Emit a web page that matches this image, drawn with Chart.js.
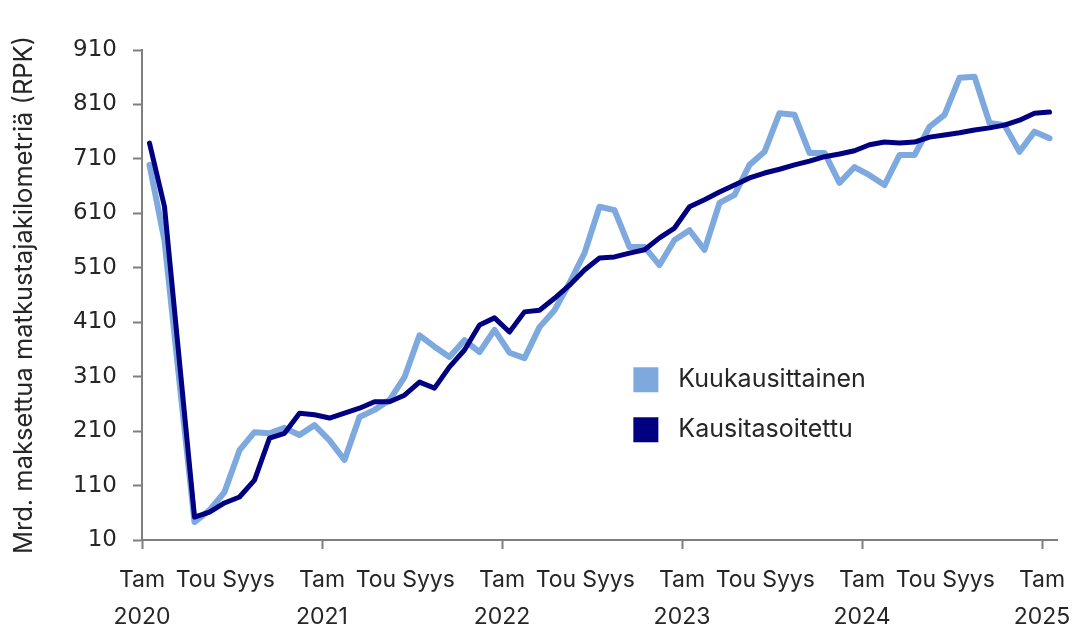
<!DOCTYPE html>
<html>
<head>
<meta charset="utf-8">
<script src="https://cdn.jsdelivr.net/npm/chart.js@4/dist/chart.umd.min.js"></script>
<style>
  html, body { margin: 0; padding: 0; background: #fff; }
  canvas { display: block; }
</style>
</head>
<body>
<canvas id="rpkChart" width="1090" height="625"></canvas>
<script>
// years on the x axis, first month of each is "Tam"
var YEARS = [2020, 2021, 2022, 2023, 2024, 2025];
var MONTH_NAMES = ['Tam', 'Tou', 'Syys'];
var MONTH_OFFSETS = [0, 3.6, 7.1];   // where the month names sit inside a year
var Y_TICKS = [10, 110, 210, 310, 410, 510, 610, 710, 810, 910];

var SERIES_NAMES = ['Kuukausittainen', 'Kausitasoitettu'];

// Tam 2020 .. Tam 2025, one value per month
var monthly = [
    699, 560, 300, 43, 65, 98, 175, 208, 206, 216, 203, 221,
    193, 157, 236, 249, 267, 309, 386, 365, 346, 377, 355, 396,
    354, 344, 401, 432, 482, 537, 622, 616, 548, 548, 515, 561,
    579, 543, 629, 644, 699, 723, 794, 791, 721, 721, 666, 695,
    680, 662, 717, 717, 769, 791, 859, 861, 776, 772, 723, 760,
    748
];
var seasonal = [
    739, 622, 337, 52, 61, 78, 89, 120, 197, 206, 243, 240,
    234, 243, 252, 264, 264, 276, 300, 289, 328, 359, 405, 418,
    392, 429, 432, 454, 478, 506, 528, 530, 537, 543, 565, 583,
    622, 635, 649, 662, 675, 684, 691, 699, 706, 714, 719, 725,
    736, 741, 739, 741, 750, 754, 758, 763, 767, 772, 781, 794,
    796
];

var LIGHT = 'rgb(125,169,223)';
var DARK = 'rgb(0,0,128)';
var AXIS = '#7f7f7f';
var TEXT = '#262626';
var FONT = 'Inter, "Liberation Sans", Arial, sans-serif';
var NUM_FONT = '"DejaVu Sans", Inter, sans-serif';

function toPoints(values) {
    var pts = [];
    for (var i = 0; i < values.length; i++) {
        pts.push({ x: i + 0.5, y: values[i] });   // middle of the month
    }
    return pts;
}

// legend drawn inside the plot area
var insideLegend = {
    id: 'insideLegend',
    afterDraw: function (chart, args, opts) {
        var ctx = chart.ctx;
        var area = chart.chartArea;
        var x = area.left + opts.x * (area.right - area.left);
        var y = area.top + opts.y * (area.bottom - area.top);
        ctx.save();
        ctx.font = opts.fontSize + 'px ' + FONT;
        ctx.textBaseline = 'middle';
        ctx.textAlign = 'left';
        chart.data.datasets.forEach(function (ds, i) {
            var yy = y + i * opts.spacing;
            ctx.fillStyle = ds.borderColor;
            ctx.fillRect(x, yy - opts.box / 2, opts.box, opts.box);
            ctx.fillStyle = TEXT;
            ctx.fillText(ds.label, x + opts.box + opts.gap, yy);
        });
        ctx.restore();
    }
};

var ctx = document.getElementById('rpkChart');
var rpkChart = new Chart(ctx, {
    type: 'line',
    data: {
        datasets: [
            {
                label: SERIES_NAMES[0],
                data: toPoints(monthly),
                borderColor: LIGHT,
                backgroundColor: LIGHT,
                borderWidth: 6,
                order: 2
            },
            {
                label: SERIES_NAMES[1],
                data: toPoints(seasonal),
                borderColor: DARK,
                backgroundColor: DARK,
                borderWidth: 5,
                order: 1
            }
        ]
    },
    options: {
        responsive: false,
        animation: false,
        elements: {
            point: { radius: 0, hoverRadius: 0 },
            line: { tension: 0, borderCapStyle: 'round', borderJoinStyle: 'round', fill: false }
        },
        layout: { padding: { top: 50, right: 33, left: 0, bottom: 0 } },
        plugins: {
            legend: { display: false },
            tooltip: { enabled: false },
            insideLegend: { x: 0.537, y: 0.673, spacing: 50, box: 25, gap: 20, fontSize: 25 }
        },
        scales: {
            x: {
                type: 'linear',
                min: 0,
                max: 61,
                afterBuildTicks: function (scale) {
                    var ticks = [];
                    YEARS.forEach(function (yr, k) {
                        MONTH_OFFSETS.forEach(function (off, j) {
                            if (k === YEARS.length - 1 && j > 0) return;
                            ticks.push({ value: k * 12 + off });
                        });
                    });
                    scale.ticks = ticks;
                },
                afterFit: function (scale) { scale.height = 85; },
                ticks: {
                    maxRotation: 0,
                    autoSkip: false,
                    padding: 13,
                    color: TEXT,
                    font: { family: FONT, size: 23, lineHeight: '37px' },
                    callback: function (value) {
                        var k = Math.floor(value / 12 + 1e-6);
                        var j = MONTH_OFFSETS.indexOf(Math.round((value - k * 12) * 10) / 10);
                        if (j === 0) return [MONTH_NAMES[0], String(YEARS[k])];
                        return MONTH_NAMES[j];
                    }
                },
                grid: {
                    drawOnChartArea: false,
                    tickLength: 9,
                    tickWidth: 2,
                    tickColor: function (c) {
                        if (c.tick && Math.abs(c.tick.value % 12) < 1e-6) return AXIS;
                        return 'rgba(0,0,0,0)';
                    }
                },
                border: { display: true, color: AXIS, width: 2 }
            },
            y: {
                min: 10,
                max: 910,
                afterBuildTicks: function (scale) {
                    scale.ticks = Y_TICKS.map(function (v) { return { value: v }; });
                },
                afterFit: function (scale) { scale.width = 142; },
                ticks: {
                    padding: 16,
                    color: TEXT,
                    font: { family: NUM_FONT, size: 23 }
                },
                grid: {
                    drawOnChartArea: false,
                    tickLength: 9,
                    tickWidth: 2,
                    tickColor: AXIS
                },
                border: { display: true, color: AXIS, width: 2 },
                title: {
                    display: true,
                    text: 'Mrd. maksettua matkustajakilometriä (RPK)',
                    color: TEXT,
                    padding: { top: 9, bottom: 0 },
                    font: { family: FONT, size: 25.5 }
                }
            }
        }
    },
    plugins: [insideLegend]
});
</script>
</body>
</html>
